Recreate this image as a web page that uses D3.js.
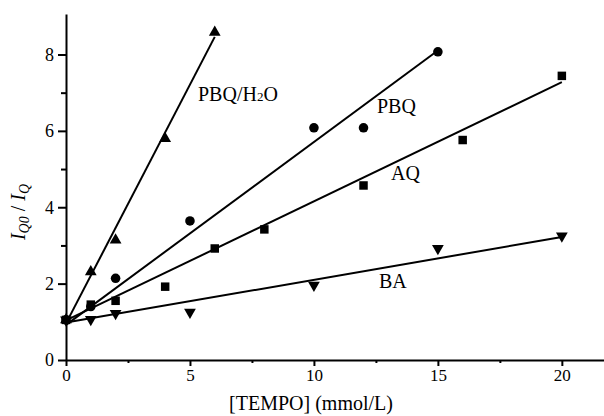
<!DOCTYPE html>
<html><head><meta charset="utf-8">
<script src="https://cdn.jsdelivr.net/npm/d3@7"></script>
<style>
body{margin:0;background:#fff;}
svg{display:block;}
</style></head>
<body><svg id="c" width="604" height="416" font-family="Liberation Serif"></svg>
<script>
// ---- data ----
const xTicks = [0, 5, 10, 15, 20];
const xMinor = [2.5, 7.5, 12.5, 17.5];
const yTicks = [0, 2, 4, 6, 8];
const yMinor = [1, 3, 5, 7];

const seriesNames = ["PBQ/H2O", "PBQ", "AQ", "BA"];
const xH2O = [0, 1, 2, 4, 6];
const yH2O = [1.05, 2.31, 3.14, 5.80, 8.58];
const xPBQ = [0, 1, 2, 5, 10, 12, 15];
const yPBQ = [1.05, 1.40, 2.14, 3.64, 6.08, 6.08, 8.07];
const xAQ = [0, 1, 2, 4, 6, 8, 12, 16, 20];
const yAQ = [1.05, 1.45, 1.55, 1.92, 2.92, 3.42, 4.57, 5.76, 7.44];
const xBA = [0, 1, 2, 5, 10, 15, 20];
const yBA = [1.05, 1.06, 1.22, 1.25, 1.96, 2.92, 3.25];

// linear fits: intercept, slope, last x
const fitIntercept = [0.96, 0.92, 1.035, 0.98];
const fitSlope = [1.25, 0.479, 0.312, 0.112];
const fitEnd = [6, 15, 20, 20];

// ---- drawing ----
const svg = d3.select("#c");
const x = d3.scaleLinear().domain([0, 21.7]).range([66, 604]);
const y = d3.scaleLinear().domain([0, 9.06]).range([360, 14]);

const series = [
  {xs: xH2O, ys: yH2O, sym: d3.symbolTriangle, size: 60, rot: 0},
  {xs: xPBQ, ys: yPBQ, sym: d3.symbolCircle, size: 72, rot: 0},
  {xs: xAQ, ys: yAQ, sym: d3.symbolSquare, size: 72, rot: 0},
  {xs: xBA, ys: yBA, sym: d3.symbolTriangle, size: 60, rot: 180}
];

// axes
const gx = svg.append("g").attr("transform", `translate(0,${y(0)})`)
  .call(d3.axisBottom(x).tickValues(xTicks).tickSize(6).tickSizeOuter(0).tickPadding(3));
const gxm = svg.append("g").attr("transform", `translate(0,${y(0)})`)
  .call(d3.axisBottom(x).tickValues(xMinor).tickSize(3).tickFormat(""));
gxm.select(".domain").remove();
const gy = svg.append("g").attr("transform", `translate(${x(0)},0)`)
  .call(d3.axisLeft(y).tickValues(yTicks).tickSize(8).tickSizeOuter(0).tickPadding(4));
const gym = svg.append("g").attr("transform", `translate(${x(0)},0)`)
  .call(d3.axisLeft(y).tickValues(yMinor).tickSize(5).tickFormat(""));
gym.select(".domain").remove();

[gx, gy, gxm, gym].forEach(g => {
  g.attr("font-family", "Liberation Serif");
  g.selectAll("path,line").attr("stroke", "#000").attr("stroke-width", 2);
  g.selectAll("text").attr("fill", "#000");
});
gx.attr("font-size", 17);
gy.attr("font-size", 18);

// fit lines
series.forEach((s, i) => {
  svg.append("line")
    .attr("x1", x(0)).attr("y1", y(fitIntercept[i]))
    .attr("x2", x(fitEnd[i])).attr("y2", y(fitIntercept[i] + fitSlope[i] * fitEnd[i]))
    .attr("stroke", "#000").attr("stroke-width", 2);
});

// markers
series.forEach(s => {
  svg.append("g").selectAll("path").data(s.xs.map((v, j) => [v, s.ys[j]])).join("path")
    .attr("d", d3.symbol().type(s.sym).size(s.size))
    .attr("transform", d => `translate(${x(d[0])},${y(d[1])}) rotate(${s.rot})`)
    .attr("fill", "#000");
});

// series labels
const lab = (tx, ty) => svg.append("text").attr("x", tx).attr("y", ty)
  .attr("font-size", 20).attr("fill", "#000");
const l1 = lab(198, 101);
l1.append("tspan").text("PBQ/H");
l1.append("tspan").attr("font-size", 13).text("2");
l1.append("tspan").text("O");
lab(377, 113).text(seriesNames[1]);
lab(391, 180).text(seriesNames[2]);
lab(379, 288).text(seriesNames[3]);

// axis titles
svg.append("text").attr("x", 311).attr("y", 410).attr("text-anchor", "middle")
  .attr("font-size", 20).attr("fill", "#000").text("[TEMPO] (mmol/L)");
const yt = svg.append("text").attr("transform", "translate(25,212) rotate(-90)")
  .attr("text-anchor", "middle").attr("font-size", 20).attr("fill", "#000");
yt.append("tspan").attr("font-style", "italic").text("I");
yt.append("tspan").attr("font-size", 14).attr("dy", 4).attr("font-style", "italic").text("Q0");
yt.append("tspan").attr("dy", -4).text(" / ");
yt.append("tspan").attr("font-style", "italic").text("I");
yt.append("tspan").attr("font-size", 14).attr("dy", 4).attr("font-style", "italic").text("Q");
</script></body></html>
